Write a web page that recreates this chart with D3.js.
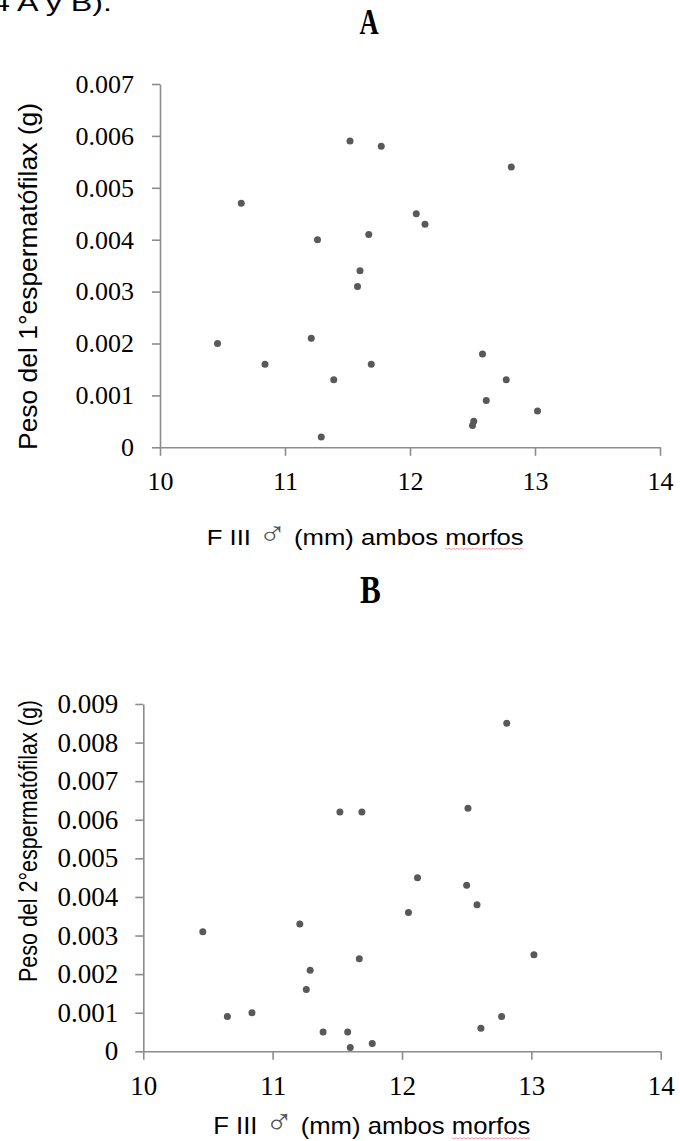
<!DOCTYPE html>
<html>
<head>
<meta charset="utf-8">
<script src="https://cdn.jsdelivr.net/npm/d3@7"></script>
<style>
  html, body { margin: 0; padding: 0; background: #ffffff; }
  svg { display: block; }
</style>
</head>
<body>
<svg id="fig" width="680" height="1141"></svg>
<script>
// F III length (mm) and spermatophylax weight (g), panel A: first spermatophylax
const fiiiA = [11.52, 11.77, 10.65, 11.26, 11.67, 11.60, 11.58, 10.46, 11.21, 10.84, 11.69,
               11.39, 11.29, 12.81, 12.05, 12.12, 12.58, 12.77, 12.61, 13.02, 12.51, 12.50];
const pesoA = [0.0059, 0.0058, 0.0047, 0.0040, 0.0041, 0.0034, 0.0031, 0.0020, 0.0021, 0.0016, 0.0016,
               0.0013, 0.0002, 0.0054, 0.0045, 0.0043, 0.0018, 0.0013, 0.0009, 0.0007, 0.0005, 0.00042];

// Panel B: second spermatophylax
const fiiiB = [10.46, 10.65, 10.84, 11.21, 11.29, 11.26, 11.39, 11.58, 11.60, 11.77, 11.52,
               11.69, 11.67, 12.81, 12.51, 12.12, 12.50, 12.58, 12.05, 13.02, 12.77, 12.61];
const pesoB = [0.0031, 0.0009, 0.0010, 0.0033, 0.0021, 0.0016, 0.0005, 0.0005, 0.0001, 0.0002, 0.0062,
               0.0062, 0.0024, 0.0085, 0.0063, 0.0045, 0.0043, 0.0038, 0.0036, 0.0025, 0.0009, 0.0006];

// Tick values
const xTicks = [10, 11, 12, 13, 14];
const yTicksA = [0, 0.001, 0.002, 0.003, 0.004, 0.005, 0.006, 0.007];
const yTicksB = [0, 0.001, 0.002, 0.003, 0.004, 0.005, 0.006, 0.007, 0.008, 0.009];

// Text
const leadText = "4 A y B).";
const xTitleParts = ["F III ", "\u2642", " (mm) ambos morfos"];
const xTitle = xTitleParts.join("");
const yTitleA = "Peso del 1\u00B0espermatófilax (g)";
const yTitleB = "Peso del 2\u00B0espermatófilax (g)";

const svg = d3.select("#fig");
const AXIS = "#8c8c8c";
const DOT = "#595959";
const SANS = "'Liberation Sans', Arial, sans-serif";
const SERIF = "'Liberation Serif', 'Times New Roman', serif";

const fmtY = v => v === 0 ? "0" : d3.format(".3f")(v);

// Fragment of the preceding paragraph
svg.append("text")
  .attr("x", -8).attr("y", 11)
  .attr("font-family", SANS).attr("font-size", 24)
  .attr("textLength", 120).attr("lengthAdjust", "spacingAndGlyphs")
  .attr("fill", "#000")
  .text(leadText);

function panel(cfg) {
  const x = d3.scaleLinear().domain([10, 14]).range([cfg.left, cfg.right]);
  const y = d3.scaleLinear().domain([0, cfg.yMax]).range([cfg.bottom, cfg.top]);
  const g = svg.append("g");

  // Panel letter
  g.append("text")
    .attr("transform", `translate(${cfg.letterX},${cfg.letterY}) scale(0.76,1)`)
    .attr("text-anchor", "middle")
    .attr("font-family", SERIF).attr("font-weight", "bold")
    .attr("font-size", cfg.letterSize)
    .attr("fill", "#000")
    .text(cfg.letter);

  // Axes
  const yAxis = d3.axisLeft(y).tickValues(cfg.yTicks).tickFormat(fmtY)
    .tickSizeInner(8).tickSizeOuter(0).tickPadding(cfg.yPad);
  const xAxis = d3.axisBottom(x).tickValues(xTicks).tickFormat(d3.format("d"))
    .tickSizeInner(8.5).tickSizeOuter(0).tickPadding(16);

  const ya = g.append("g").attr("transform", `translate(${cfg.left},0)`).call(yAxis);
  const xa = g.append("g").attr("transform", `translate(0,${cfg.bottom})`).call(xAxis);
  [ya, xa].forEach(a => {
    a.select(".domain").attr("stroke", AXIS).attr("stroke-width", 1.6);
    a.selectAll(".tick line").attr("stroke", AXIS).attr("stroke-width", 1.6);
    a.selectAll(".tick text").attr("fill", "#000")
      .attr("font-family", SERIF).attr("font-size", cfg.tickSize);
  });

  // Points
  g.append("g").selectAll("circle")
    .data(cfg.xs.map((v, i) => [v, cfg.ys[i]]))
    .join("circle")
    .attr("cx", d => x(d[0]))
    .attr("cy", d => y(d[1]))
    .attr("r", 3.5)
    .attr("fill", DOT);

  // X title, with the male symbol set in a lighter, larger face
  const xt = g.append("text")
    .attr("x", cfg.xTitleX).attr("y", cfg.xTitleY)
    .attr("font-family", SANS).attr("font-size", cfg.xTitleSize)
    .attr("textLength", 317).attr("lengthAdjust", "spacingAndGlyphs")
    .attr("fill", "#000");
  xt.append("tspan").text(xTitleParts[0]);
  xt.append("tspan")
    .attr("font-family", "'DejaVu Sans', sans-serif")
    .attr("font-weight", 200)
    .attr("font-size", cfg.xTitleSize * 1.5)
    .attr("fill", "#555")
    .text(xTitleParts[1]);
  xt.append("tspan").text(xTitleParts[2]);

  // Spell-check squiggle under the last word of the x title
  const node = xt.node();
  const start = xTitle.lastIndexOf("morfos");
  const b0 = node.getExtentOfChar(start);
  const b1 = node.getExtentOfChar(xTitle.length - 1);
  const x0 = b0.x, x1 = b1.x + b1.width, yy = cfg.xTitleY + 4;
  const pts = [];
  for (let px = x0, k = 0; px <= x1; px += 2, k++) pts.push([px, yy + (k % 2 ? 0.8 : -0.2)]);
  g.append("path")
    .attr("d", d3.line()(pts))
    .attr("fill", "none").attr("stroke", "#ef9aa6").attr("stroke-width", 1);

  // Y title
  g.append("text")
    .attr("transform", `translate(${cfg.yTitleX},${cfg.yTitleY}) rotate(-90)`)
    .attr("text-anchor", "middle")
    .attr("font-family", SANS).attr("font-size", cfg.yTitleSize)
    .attr("textLength", cfg.yTitleLen).attr("lengthAdjust", "spacingAndGlyphs")
    .attr("fill", "#000")
    .text(cfg.yTitle);
}

panel({
  letter: "A", letterX: 369, letterY: 34, letterSize: 35,
  left: 160, right: 660, top: 84, bottom: 447.3, yMax: 0.007,
  yTicks: yTicksA, yPad: 18, tickSize: 26,
  xs: fiiiA, ys: pesoA,
  xTitleX: 206.7, xTitleY: 544.5, xTitleSize: 22.5,
  yTitle: yTitleA, yTitleX: 37, yTitleY: 276.5, yTitleSize: 26, yTitleLen: 347
});

panel({
  letter: "B", letterX: 370.5, letterY: 603, letterSize: 41,
  left: 143.3, right: 660.7, top: 704, bottom: 1051.3, yMax: 0.009,
  yTicks: yTicksB, yPad: 17, tickSize: 27,
  xs: fiiiB, ys: pesoB,
  xTitleX: 213.3, xTitleY: 1134, xTitleSize: 24,
  yTitle: yTitleB, yTitleX: 37, yTitleY: 841, yTitleSize: 26, yTitleLen: 282
});
</script>
</body>
</html>
